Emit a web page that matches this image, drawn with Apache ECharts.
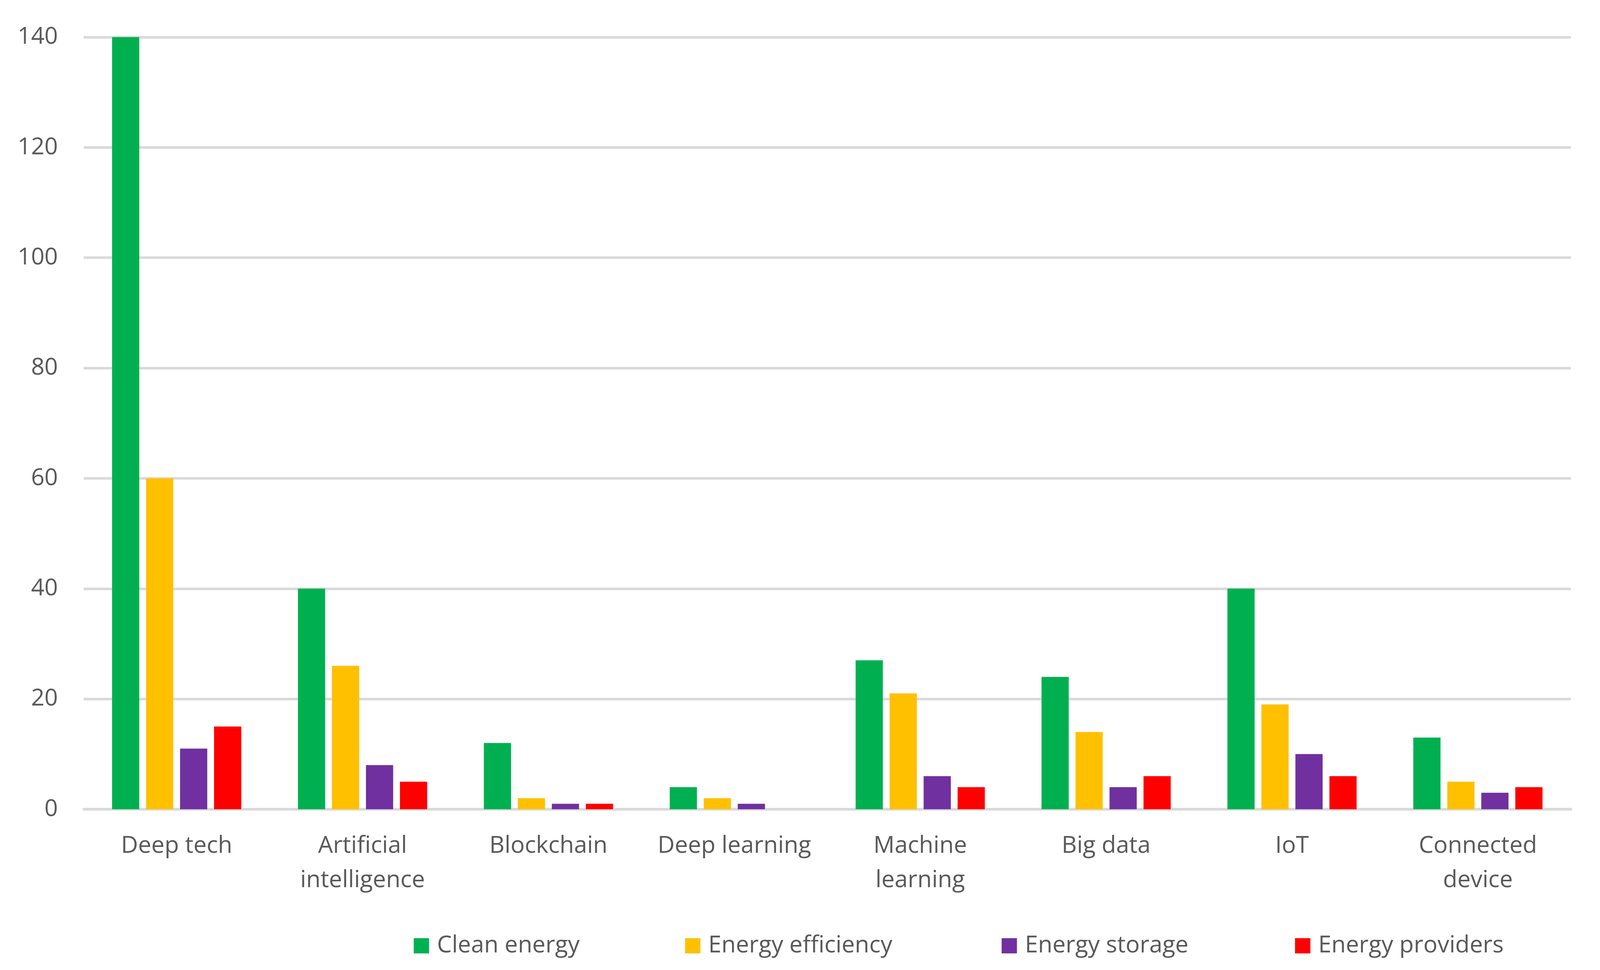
<!DOCTYPE html>
<html>
<head>
<meta charset="utf-8">
<script src="https://cdn.jsdelivr.net/npm/echarts@6/dist/echarts.min.js"></script>
<style>
html,body{margin:0;padding:0;background:#fff;overflow:hidden;}
#chart{width:100vw;height:100vh;}
</style>
</head>
<body>
<div id="chart"></div>
<script>
const categories = ["Deep tech", "Artificial\nintelligence", "Blockchain", "Deep learning", "Machine\nlearning", "Big data", "IoT", "Connected\ndevice"];
const seriesNames = ["Clean energy", "Energy efficiency", "Energy storage", "Energy providers"];
const cleanEnergy = [140, 40, 12, 4, 27, 24, 40, 13];
const energyEfficiency = [60, 26, 2, 2, 21, 14, 19, 5];
const energyStorage = [11, 8, 1, 1, 6, 4, 10, 3];
const energyProviders = [15, 5, 1, 0, 4, 6, 6, 4];
const yTicks = [0, 20, 40, 60, 80, 100, 120, 140];

const colors = ["#00B050", "#FFC000", "#7030A0", "#FF0000"];
const values = [cleanEnergy, energyEfficiency, energyStorage, energyProviders];
const FONT = "'Open Sans', sans-serif";
const TXT = "#595959";
const legendLefts = [1107, 1833, 2680, 3465];

const chart = echarts.init(document.getElementById('chart'), null, {renderer: 'canvas'});
const W = chart.getWidth(), H = chart.getHeight();
const sx = W / 4281, sy = H / 2483, s = Math.min(sx, sy);
const fs = 63 * s;

chart.setOption({
  backgroundColor: '#ffffff',
  animation: false,
  textStyle: {fontFamily: FONT},
  grid: {left: 224 * sx, right: 78 * sx, top: 95 * sy, bottom: 411.5 * sy, containLabel: false},
  legend: seriesNames.map((n, i) => ({
    data: [n],
    left: legendLefts[i] * sx,
    top: 2391 * sy,
    padding: 0,
    icon: 'rect',
    itemWidth: 41 * s,
    itemHeight: 41 * s,
    selectedMode: false,
    textStyle: {fontFamily: FONT, fontSize: fs, color: TXT, padding: [0, 0, 0, 16 * s]}
  })),
  xAxis: {
    type: 'category',
    data: categories,
    axisLine: {show: true, lineStyle: {color: '#d9d9d9', width: 7 * s}},
    axisTick: {show: false},
    axisLabel: {fontFamily: FONT, fontSize: fs, color: TXT, margin: 50 * sy, lineHeight: 88 * sy, interval: 0}
  },
  yAxis: {
    type: 'value',
    min: yTicks[0],
    max: yTicks[yTicks.length - 1],
    interval: yTicks[1] - yTicks[0],
    axisLine: {show: false},
    axisTick: {show: false},
    splitLine: {show: true, lineStyle: {color: '#d9d9d9', width: 7 * s}},
    axisLabel: {fontFamily: FONT, fontSize: fs, color: TXT, margin: 69 * sx}
  },
  series: seriesNames.map((n, i) => ({
    name: n,
    type: 'bar',
    data: values[i],
    barGap: '25%',
    barCategoryGap: '30.5%',
    itemStyle: {color: colors[i]}
  }))
});
</script>
</body>
</html>
